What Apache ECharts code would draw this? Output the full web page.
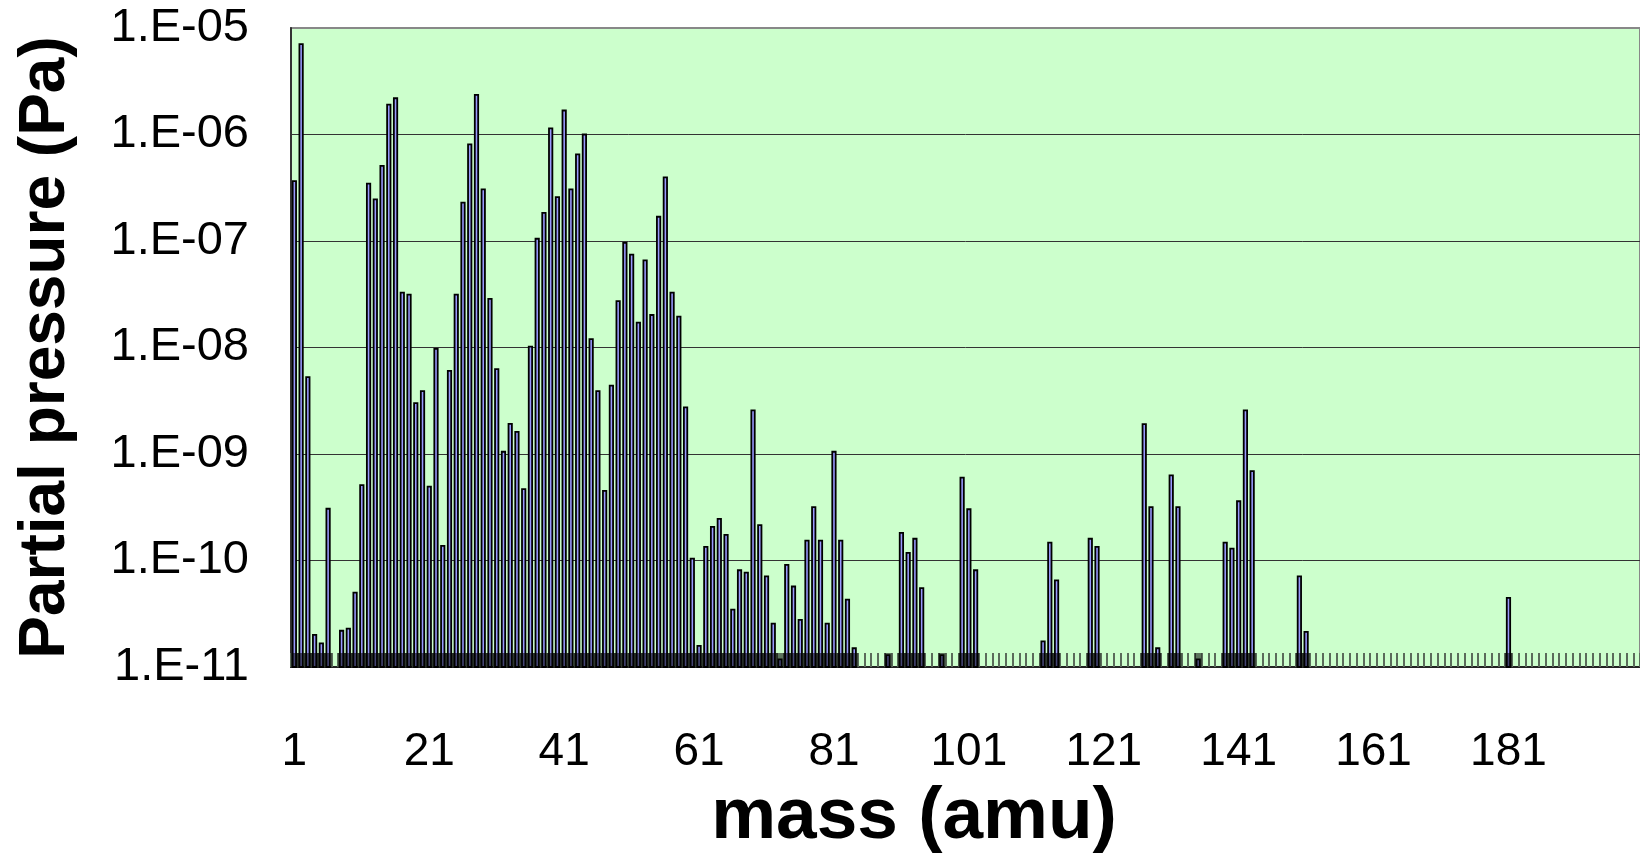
<!DOCTYPE html>
<html>
<head>
<meta charset="utf-8">
<script src="https://cdn.jsdelivr.net/npm/echarts@6/dist/echarts.min.js"></script>
<style>
html,body{margin:0;padding:0;background:#fff;}
#c{width:1640px;height:855px;}
</style>
</head>
<body>
<div id="c"></div>
<script>
// categories: mass numbers shown on the x axis
const masses = [];
for (let m = 1; m <= 200; m++) masses.push(String(m));

// masses that show a peak, and the partial pressure (Pa) read for each
const peakMass = [
  1,2,3,4,5,6,8,9,10,11,12,13,14,15,16,17,18,19,20,
  21,22,23,24,25,26,27,28,29,30,31,32,33,34,35,36,37,38,39,40,
  41,42,43,44,45,46,47,48,49,50,51,52,53,54,55,56,57,58,59,60,
  61,62,63,64,65,66,67,68,69,70,71,72,73,74,75,76,77,78,79,80,
  81,82,83,84,89,91,92,93,94,97,100,101,102,
  112,113,114,119,120,127,128,129,131,132,135,
  139,140,141,142,143,150,151,181
];
const peakPressure = [
  3.65e-7,7.06e-6,5.26e-9,2.0e-11,1.67e-11,3.06e-10,2.19e-11,2.29e-11,5.0e-11,5.1e-10,
  3.46e-7,2.46e-7,5.07e-7,1.91e-6,2.19e-6,3.28e-8,3.13e-8,3.0e-9,3.89e-9,
  4.93e-10,9.7e-9,1.37e-10,6.04e-9,3.13e-8,2.29e-7,8.07e-7,2.36e-6,3.05e-7,2.86e-8,
  6.27e-9,1.05e-9,1.92e-9,1.61e-9,4.67e-10,1.02e-8,1.05e-7,1.84e-7,1.14e-6,2.58e-7,
  1.68e-6,3.05e-7,6.52e-7,1.0e-6,1.2e-8,3.89e-9,4.5e-10,4.38e-9,2.73e-8,9.6e-8,
  7.46e-8,1.71e-8,6.57e-8,2.02e-8,1.69e-7,3.95e-7,3.28e-8,1.95e-8,2.74e-9,1.04e-10,
  1.58e-11,1.34e-10,2.07e-10,2.46e-10,1.74e-10,3.46e-11,8.1e-11,7.7e-11,2.57e-9,2.15e-10,
  7.1e-11,2.55e-11,1.18e-11,9.1e-11,5.7e-11,2.77e-11,1.54e-10,3.17e-10,1.54e-10,2.55e-11,
  1.05e-9,1.54e-10,4.3e-11,1.5e-11,1.29e-11,1.82e-10,1.18e-10,1.6e-10,5.5e-11,1.29e-11,
  6.0e-10,3.03e-10,8.1e-11,
  1.74e-11,1.47e-10,6.5e-11,1.6e-10,1.34e-10,1.91e-9,3.17e-10,1.5e-11,6.3e-10,3.17e-10,1.18e-11,
  1.47e-10,1.29e-10,3.6e-10,2.57e-9,6.9e-10,7.1e-11,2.14e-11,4.45e-11
];

// y axis range (decades)
const yMin = 1e-11, yMax = 1e-5;

const peakData = peakMass.map((m, i) => [String(m), peakPressure[i]]);

const FONT = '"Liberation Sans", Arial, sans-serif';
const chart = echarts.init(document.getElementById('c'), null, {renderer: 'canvas'});

chart.setOption({
  animation: false,
  backgroundColor: '#ffffff',
  grid: {
    left: 291, top: 28, width: 1354, height: 639,
    show: true, backgroundColor: '#ccffcc', borderColor: '#888888', borderWidth: 2
  },
  xAxis: {
    type: 'category',
    data: masses,
    boundaryGap: true,
    axisLine: {show: true, lineStyle: {color: '#222', width: 2}},
    axisTick: {show: true, inside: true, interval: 0, length: 14,
      lineStyle: {color: '#5a6b5a', width: 2}},
    axisLabel: {interval: 19, margin: 62, color: '#000', fontSize: 46, fontFamily: FONT},
    splitLine: {show: false}
  },
  yAxis: {
    type: 'log',
    logBase: 10,
    min: yMin, max: yMax,
    interval: 1,
    axisLine: {show: true, lineStyle: {color: '#333', width: 2}},
    axisTick: {show: false},
    axisLabel: {
      margin: 42, color: '#000', fontSize: 47, fontFamily: FONT,
      formatter: v => { const e = Math.round(Math.log10(v)); return '1.E-' + String(-e).padStart(2, '0'); }
    },
    splitLine: {show: true, showMaxLine: false, lineStyle: {color: '#333', width: 1}},
    name: 'Partial pressure (Pa)',
    nameLocation: 'middle',
    nameGap: 213,
    nameMoveOverlap: false,
    nameTextStyle: {fontSize: 64, fontWeight: 'bold', color: '#000', fontFamily: FONT}
  },
  graphic: [{
    type: 'text', x: 914, y: 818,
    style: {text: 'mass (amu)', align: 'center', verticalAlign: 'middle',
      font: 'bold 73px ' + FONT, fill: '#000'}
  }],
  series: [{
    type: 'custom',
    name: 'peaks',
    data: peakData,
    encode: {x: 0, y: 1},
    z: 2,
    renderItem: (params, api) => {
      const top = api.coord([api.value(0), api.value(1)]);
      const base = api.coord([api.value(0), yMin]);
      const w = api.size([1, 0])[0] * 0.5;
      return {
        type: 'rect',
        shape: {x: top[0] - w / 2, y: top[1], width: w, height: base[1] - top[1]},
        style: {fill: '#9999ff', stroke: '#000', lineWidth: 1.8}
      };
    }
  }, {
    type: 'custom',
    name: 'baseband',
    data: peakData,
    encode: {x: 0, y: 1},
    z: 3,
    silent: true,
    renderItem: (params, api) => {
      const base = api.coord([api.value(0), yMin]);
      const w = api.size([1, 0])[0];
      return {
        type: 'rect',
        shape: {x: base[0] - w / 2, y: base[1] - 14, width: w, height: 14},
        style: {fill: 'rgba(0,0,0,0.55)'}
      };
    }
  }]
});
</script>
</body>
</html>
